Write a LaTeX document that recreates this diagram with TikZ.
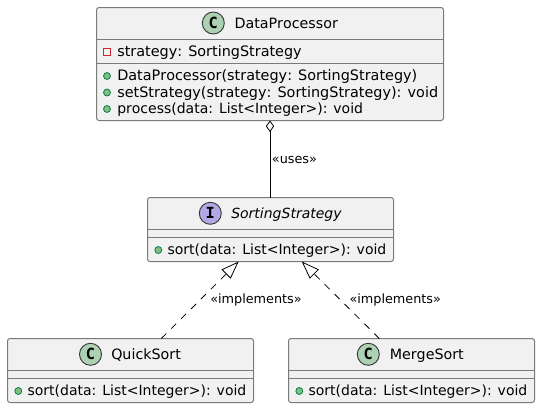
\documentclass[tikz,border=0pt]{standalone}
\usepackage{fontspec}
\setmainfont[Kerning=Off]{DejaVu Sans}
\newfontfamily\glyphfont{DejaVu Sans Mono}
\definecolor{boxfill}{HTML}{F1F1F1}
\definecolor{boxline}{HTML}{7A7A7A}
\definecolor{badgeline}{HTML}{383838}
\definecolor{classbadge}{HTML}{ADD1B2}
\definecolor{ifacebadge}{HTML}{B4A7E5}
\definecolor{pubfill}{HTML}{84BE84}
\definecolor{publine}{HTML}{038048}
\definecolor{privline}{HTML}{C82930}
\usetikzlibrary{arrows.meta, calc}
\tikzset{
  umlbox/.style={draw=boxline, fill=boxfill, line width=0.75pt, rounded corners=1.9pt,
    inner sep=0pt, outer sep=0pt},
  divider/.style={draw=boxline, line width=0.75pt},
  badge/.style={circle, draw=badgeline, line width=0.7pt, minimum size=16.5pt, inner sep=0pt,
    font=\glyphfont\bfseries\fontsize{11.5pt}{11.5pt}\selectfont},
  member/.style={anchor=base west, inner sep=0pt, font=\fontsize{10.5pt}{12pt}\selectfont},
  widemember/.style={member, font=\fontsize{10.8pt}{12pt}\selectfont},
  classname/.style={member, font=\fontsize{10.7pt}{12pt}\selectfont},
  edgelabel/.style={anchor=base west, inner sep=0pt, font=\fontsize{9.6pt}{12pt}\selectfont},
  pubmark/.style={circle, draw=publine, fill=pubfill, line width=0.6pt, minimum size=5.2pt, inner sep=0pt},
  privmark/.style={rectangle, draw=privline, line width=0.6pt, minimum size=5.2pt, inner sep=0pt},
  assoc/.style={line width=0.6pt, black},
  realize/.style={line width=0.6pt, black, dash pattern=on 5.25pt off 5.25pt,
    -{Triangle[open, length=13.4pt, width=9.6pt]}},
}
\begin{document}
\begin{tikzpicture}[x=0.75pt, y=-0.75pt]
\useasboundingbox (0,0) rectangle (540,408);
% boxes
\node[umlbox, minimum width=260.25pt, minimum height=84.75pt] (proc) at (270,64) {};
\node[umlbox, minimum width=184.5pt, minimum height=48pt] (strat) at (270.5,229.5) {};
\node[umlbox, minimum width=184.5pt, minimum height=48pt] (quick) at (130.5,370.5) {};
\node[umlbox, minimum width=184.5pt, minimum height=48pt] (merge) at (411.5,370.5) {};
% compartments
\draw[divider] (proc.west |- 0,39.5) -- (proc.east |- 0,39.5);
\draw[divider] (proc.west |- 0,63.5) -- (proc.east |- 0,63.5);
\draw[divider] (strat.west |- 0,229.5) -- (strat.east |- 0,229.5);
\draw[divider] (strat.west |- 0,237.5) -- (strat.east |- 0,237.5);
\draw[divider] (quick.west |- 0,370.5) -- (quick.east |- 0,370.5);
\draw[divider] (quick.west |- 0,378.5) -- (quick.east |- 0,378.5);
\draw[divider] (merge.west |- 0,370.5) -- (merge.east |- 0,370.5);
\draw[divider] (merge.west |- 0,378.5) -- (merge.east |- 0,378.5);
% headers
\node[badge, fill=classbadge] (procbadge) at (213.3,23) {C};
\node[classname] (procname) at (234.3,28) {DataProcessor};
\node[badge, fill=ifacebadge] (stratbadge) at (210.3,213.3) {I};
\node[member, font=\fontsize{10.5pt}{12pt}\selectfont\itshape] (stratname) at (231,218.5) {SortingStrategy};
\node[badge, fill=classbadge] (quickbadge) at (90.5,354.3) {C};
\node[classname] (quickname) at (111,359.5) {QuickSort};
\node[badge, fill=classbadge] (mergebadge) at (368.3,354.3) {C};
\node[classname] (mergename) at (389.5,359.5) {MergeSort};
% members
\node[privmark] (fieldmark) at (107,52.3) {};
\node[widemember] (field) at (117,56.5) {strategy: SortingStrategy};
\node[pubmark] (ctormark) at (107,76) {};
\node[widemember] (ctor) at (117,80.5) {DataProcessor(strategy: SortingStrategy)};
\node[pubmark] (settermark) at (107,92.5) {};
\node[widemember] (setter) at (117,97) {setStrategy(strategy: SortingStrategy): void};
\node[pubmark] (procmark) at (107,109) {};
\node[member] (procop) at (117,113.5) {process(data: List<Integer>): void};
\node[pubmark] (stratmark) at (158.3,250) {};
\node[member] (stratop) at (167.3,254.5) {sort(data: List<Integer>): void};
\node[pubmark] (quickmark) at (18.3,391) {};
\node[member] (quickop) at (27.3,395.5) {sort(data: List<Integer>): void};
\node[pubmark] (mergemark) at (299.3,391) {};
\node[member] (mergeop) at (308.3,395.5) {sort(data: List<Integer>): void};
% relations
\draw[assoc, {Diamond[open, length=8.6pt, width=6.2pt]}-] (proc.south) -- (proc.south |- strat.north);
\draw[realize] ($(quick.north)+(30.8,0)$) -- ($(strat.south)+(-31.8,0)$);
\draw[realize] ($(merge.north)+(-32.2,0)$) -- ($(strat.south)+(31.2,0)$);
\node[edgelabel] (useslabel) at (271.7,163) {«uses»};
\node[edgelabel] (quicklabel) at (210,303.5) {«implements»};
\node[edgelabel] (mergelabel) at (349.3,303.5) {«implements»};
\end{tikzpicture}
\end{document}
